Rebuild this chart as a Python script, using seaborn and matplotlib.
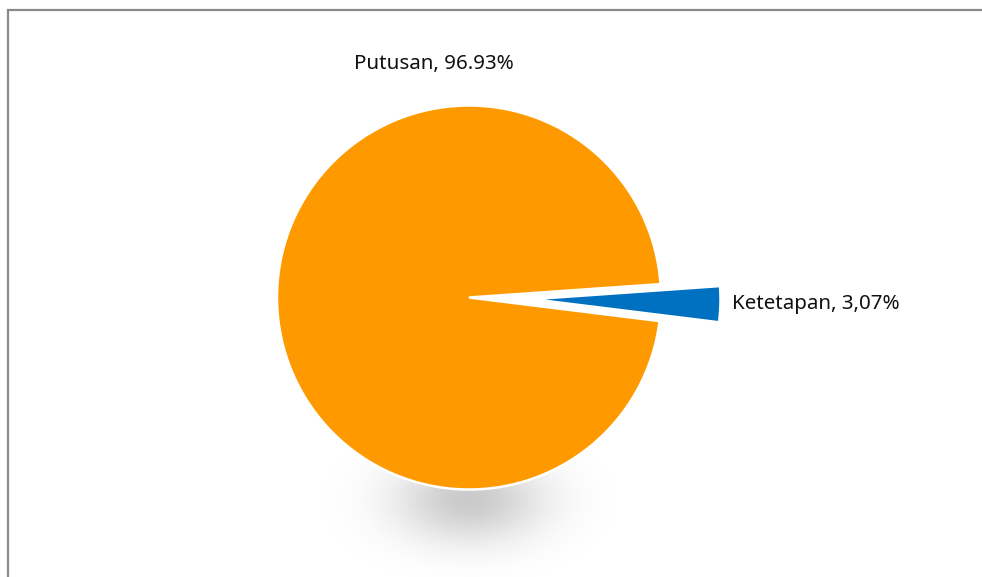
import numpy as np
import pandas as pd
import matplotlib
matplotlib.use("Agg")
import matplotlib.pyplot as plt
from matplotlib.patches import Rectangle
import seaborn as sns

# Share of court documents by type
categories = ["Putusan", "Ketetapan"]
shares = [96.93, 3.07]
label_texts = ["Putusan, 96.93%", "Ketetapan, 3,07%"]
slice_colors = ["#FF9900", "#0070C0"]

df = pd.DataFrame({"jenis": categories, "persen": shares, "label": label_texts})

sns.set_theme(style="white")
plt.rcParams["font.family"] = ["Noto Sans", "DejaVu Sans"]

W, H, DPI = 982, 577, 100
fig = plt.figure(figsize=(W / DPI, H / DPI), dpi=DPI, facecolor="white")
ax = fig.add_axes([0, 0, 1, 1])

# pie placement in pixels (centre and radius)
cx, cy_top, R = 469.0, 297.5, 192.0
cy = H - cy_top

wedges, _ = ax.pie(
    df["persen"],
    colors=slice_colors,
    startangle=4.0,
    counterclock=True,
    explode=[0, 0.33],
    wedgeprops=dict(edgecolor="white", linewidth=1.8, zorder=3),
)
wedges[1].set_radius(0.98)

# soft shadow under the pie
gx = np.linspace(-1.2, 1.2, 300)
gy = np.linspace(-1.7, -0.6, 200)
X, Y = np.meshgrid(gx, gy)
sx, sy = 52 / R, 30 / R
y0 = (cy_top - 500) / R
alpha = 0.21 * np.exp(-0.5 * ((X / sx) ** 2 + ((Y - y0) / sy) ** 2))
rgba = np.zeros(X.shape + (4,))
rgba[..., 3] = alpha
ax.imshow(rgba, extent=(gx[0], gx[-1], gy[0], gy[-1]), origin="lower",
          zorder=1, interpolation="bilinear", aspect="auto")

# labels
ax.text((433.5 - cx) / R, (cy_top - 64) / R, df["label"][0],
        ha="center", va="center", fontsize=14.8, color="#111111", zorder=5)
ax.text((732 - cx) / R, (cy_top - 304) / R, df["label"][1],
        ha="left", va="center", fontsize=14.8, color="#111111", zorder=5)

ax.set_xlim(-cx / R, (W - cx) / R)
ax.set_ylim(-cy / R, (H - cy) / R)
ax.set_aspect("auto")
ax.axis("off")

# outer frame
fig.add_artist(Rectangle((8 / W, -0.2), 1.2, 1.2 - 9.5 / H, transform=fig.transFigure,
                         fill=False, edgecolor="#8a8a8a", linewidth=1.6))

fig.savefig("out.png", dpi=DPI, facecolor="white")
